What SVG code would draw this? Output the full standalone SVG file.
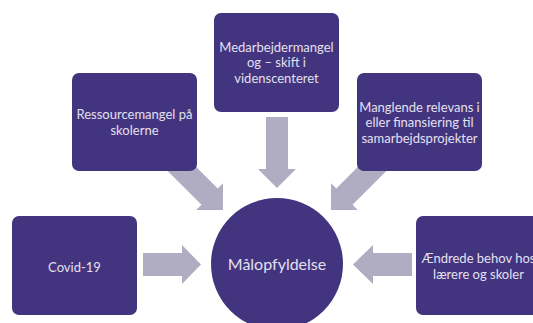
<svg xmlns="http://www.w3.org/2000/svg" width="533" height="323" viewBox="0 0 533 323">
<style>
.box{fill:#42347f}
.arr{fill:#b0adc2}
text{font-family:"Lato","Open Sans",sans-serif;fill:#e4e0ee;text-anchor:middle}
.t{font-size:13px}
.c{font-size:16px}
</style>
<rect width="533" height="323" fill="#ffffff"/>
<g id="connectors">
<polygon class="arr" points="266,117 288,117 288,169 296,169 277,188 258,169 266,169"/>
<polygon class="arr" points="143,253 182,253 182,245 201,264.5 182,284 182,276 143,276"/>
<polygon class="arr" points="412,253 373,253 373,245 353,264.5 373,284 373,276 412,276"/>
<polygon class="arr" points="180.9,151.7 217.7,188.5 223,183.2 223,210 196.2,210 201.5,204.7 164.7,167.9"/>
<polygon class="arr" points="373.1,151.7 336.3,188.5 331,183.2 331,210 357.8,210 352.5,204.7 389.3,167.9"/>
</g>
<g id="n-top">
<rect class="box" x="214" y="13" width="125" height="99" rx="7"/>
<text class="t" x="276.5" y="51.5">Medarbejdermangel</text>
<text class="t" x="276.5" y="67">og – skift i</text>
<text class="t" x="276.5" y="82.5">videnscenteret</text>
</g>
<g id="n-ressource">
<rect class="box" x="72" y="73" width="125" height="98" rx="7"/>
<text class="t" x="134.5" y="119">Ressourcemangel på</text>
<text class="t" x="134.5" y="135">skolerne</text>
</g>
<g id="n-manglende">
<rect class="box" x="357" y="73" width="125" height="98" rx="7"/>
<text class="t" x="419.5" y="111.5">Manglende relevans i</text>
<text class="t" x="419.5" y="127">eller finansiering til</text>
<text class="t" x="419.5" y="142.5">samarbejdsprojekter</text>
</g>
<g id="n-covid">
<rect class="box" x="12" y="216" width="125" height="99" rx="7"/>
<text class="t" x="74.5" y="271.5">Covid-19</text>
</g>
<g id="n-aendrede">
<rect class="box" x="416" y="216" width="125" height="99" rx="7"/>
<text class="t" x="478.5" y="263">Ændrede behov hos</text>
<text class="t" x="478.5" y="278.5">lærere og skoler</text>
</g>
<g id="n-center">
<circle class="box" cx="277" cy="264" r="66"/>
<text class="c" x="277" y="270">Målopfyldelse</text>
</g>
</svg>
